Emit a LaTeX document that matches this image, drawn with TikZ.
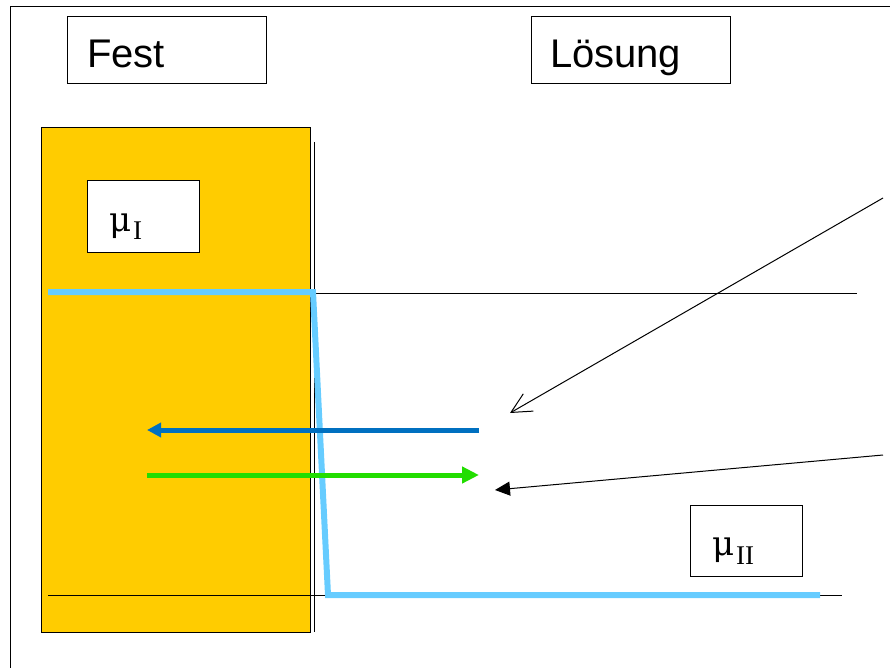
\documentclass[tikz,border=0pt]{standalone}
\usepackage{fontspec}
\setmainfont{Liberation Sans}
\newfontfamily\grfont{DejaVu Serif}
\newfontfamily\idxfont{Liberation Serif}
\usetikzlibrary{arrows.meta}
\definecolor{festgelb}{HTML}{FFCC00}
\definecolor{hellblau}{HTML}{66CCFF}
\definecolor{dunkelblau}{HTML}{0070C0}
\definecolor{hellgruen}{HTML}{22DD00}
\newcommand{\muindex}[1]{μ\kern2pt\raisebox{-9pt}{\idxfont\fontsize{27}{30}\selectfont #1}}
\tikzset{
  titelbox/.style={draw,line width=1pt,minimum height=67pt,inner xsep=20pt,
    text width=159pt,align=left,text height=38pt,text depth=3pt,
    font=\fontsize{40}{46}\selectfont},
  mubox/.style={draw,line width=1pt,fill=white,minimum height=71pt,inner xsep=22pt,
    text width=68pt,align=left,text height=31pt,text depth=2pt,
    font=\grfont\fontsize{34}{40}\selectfont},
  duenn/.style={line width=1pt},
  fluss/.style={line width=5pt}
}
\begin{document}
\begin{tikzpicture}[x=1pt,y=-1pt]
    \useasboundingbox (0,0) rectangle (890,668);
    \draw[duenn] (10,668) -- (10,7) -- (890,7); % Rahmen
    \node[titelbox] (fest) at (166.5,50.5) {Fest};
    \node[titelbox,text width=161pt,inner xsep=19pt] (loesung) at (630.5,50.5) {Lösung};
    \node[draw,duenn,fill=festgelb,minimum width=269pt,minimum height=504pt] (block) at (175.5,380) {}; % Festkoerper
    \draw[duenn] (314,142) -- (314,632); % Grenzflaeche
    \node[mubox] (muI) at (143,216.5) {\muindex{I}};
    \node[mubox] (muII) at (746,541) {\muindex{II}};
    \draw[duenn] (310,293) -- (857,293); % Niveau I
    \draw[duenn] (48,595) -- (842,595);  % Niveau II
    \draw[hellblau,line width=6pt] (48,292) -- (313,292) -- (328,595) -- (820,595); % Potentialverlauf
    \coordinate (blauA) at (479,430);
    \coordinate (blauE) at (147,430);
    \coordinate (gruenA) at (147,475);
    \coordinate (gruenE) at (479,475);
    \draw[fluss,dunkelblau,-{Triangle[length=14pt,width=14pt]}] (blauA) -- (blauE);
    \draw[fluss,hellgruen,-{Triangle[length=17pt,width=16pt]}] (gruenA) -- (gruenE);
    \coordinate (zeigerA) at (883,198);
    \coordinate (zeigerAE) at (510,413);
    \coordinate (zeigerB) at (883,455);
    \coordinate (zeigerBE) at (495,490);
    \draw[duenn,-{Straight Barb[length=20pt,width=20pt]}] (zeigerA) -- (zeigerAE);
    \draw[duenn,-{Triangle[length=15pt,width=14pt]}] (zeigerB) -- (zeigerBE);
\end{tikzpicture}
\end{document}
